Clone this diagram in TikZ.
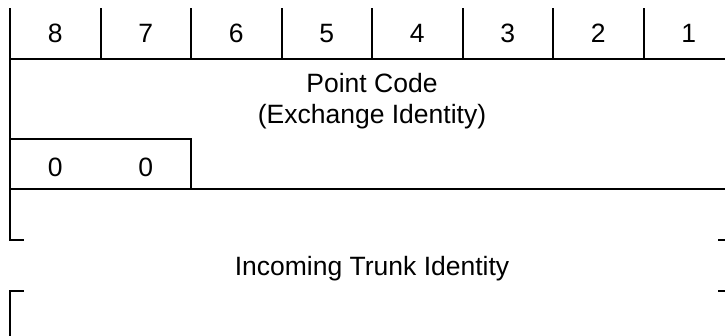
\documentclass[tikz,border=0pt]{standalone}
\usepackage{fontspec}
\setmainfont{Liberation Sans}
\tikzset{
  rule/.style={line width=2pt, line cap=rect},
  lbl/.style={inner sep=0pt, font=\fontsize{26.5}{31}\selectfont, align=center},
  digit/.style={lbl, anchor=base}
}
\begin{document}
\begin{tikzpicture}[x=1pt, y=-1pt]
\useasboundingbox (0,0) rectangle (725,336);
\clip (0,0) rectangle (725,336);
% top row verticals
\foreach \i in {1,...,7} {
  \draw[rule] ({10+90.5*\i},9) -- ({10+90.5*\i},59);
}
% outer sides, upper part
\draw[rule] (23,240) -- (10,240) -- (10,9);
\draw[rule] (719,240) -- (734,240) -- (734,9);
% horizontal lines
\draw[rule] (10,59) -- (734,59);
\draw[rule] (10,189) -- (734,189);
% 0 0 box
\draw[rule] (10,139) -- (191,139) -- (191,189);
% lower bracket
\draw[rule] (23,291) -- (10,291) -- (10,345);
\draw[rule] (719,291) -- (734,291) -- (734,345);
% labels
\foreach \n [count=\i from 0] in {8,7,6,5,4,3,2,1} {
  \node[digit] (b\n) at ({55.25+90.5*\i},43) {\n};
}
\node[lbl] (pc) at (372,101) {Point Code\\(Exchange Identity)};
\node[digit] (z1) at (55.25,177) {0};
\node[digit] (z2) at (145.75,177) {0};
\node[lbl, anchor=base] (trunk) at (372,276) {Incoming Trunk Identity};
\end{tikzpicture}
\end{document}
